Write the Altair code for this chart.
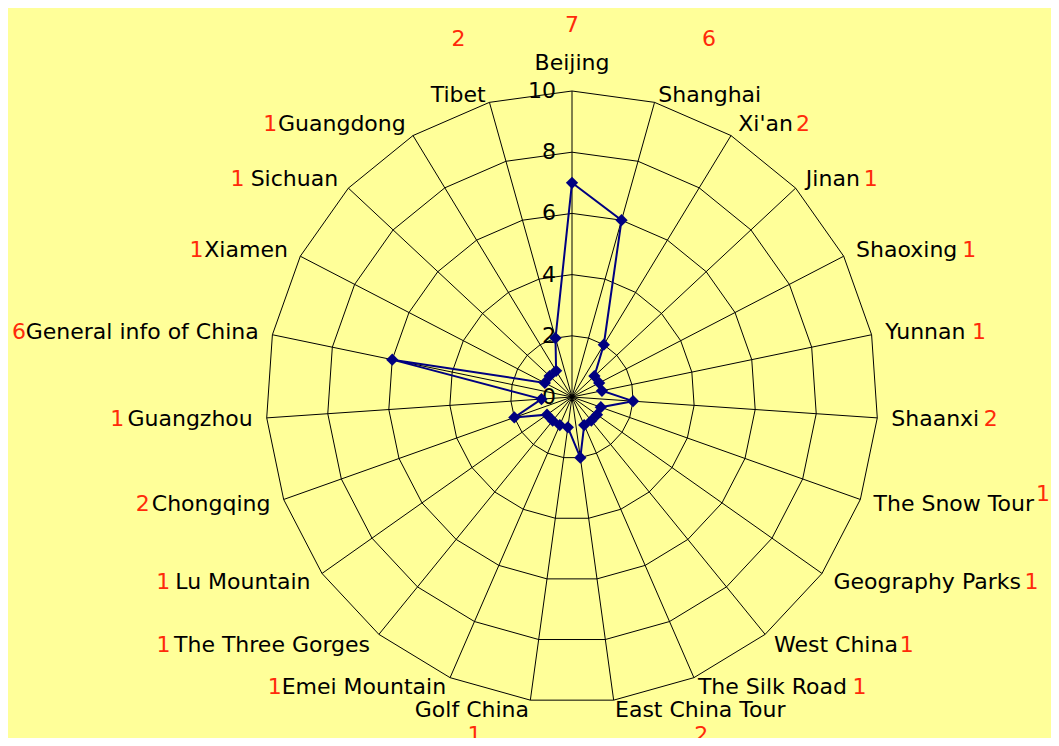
import altair as alt
import pandas as pd

# ---- data ----
categories = ["Beijing", "Shanghai", "Xi'an", "Jinan", "Shaoxing", "Yunnan", "Shaanxi",
              "The Snow Tour", "Geography Parks", "West China", "The Silk Road",
              "East China Tour", "Golf China", "Emei Mountain", "The Three Gorges",
              "Lu Mountain", "Chongqing", "Guangzhou", "General info of China",
              "Xiamen", "Sichuan", "Guangdong", "Tibet"]
values = [7, 6, 2, 1, 1, 1, 2, 1, 1, 1, 1, 2, 1, 1, 1, 1, 2, 1, 6, 1, 1, 1, 2]
ring_levels = [2, 4, 6, 8, 10]
tick_labels = [0, 2, 4, 6, 8, 10]

N = len(categories)
MAXV = 10
K = 30.6            # pixels per unit
W, H = 1043, 730    # whole canvas
CX, CY = 564, 389   # centre of the radar in canvas pixels
XMAX = W - CX

xs = alt.Scale(domain=[-CX, XMAX], nice=False, zero=False)
ys = alt.Scale(domain=[-(H - CY), CY], nice=False, zero=False)

cat_df = pd.DataFrame({"idx": list(range(N)), "category": categories, "value": values})
closed_df = pd.DataFrame({"idx": list(range(N + 1)),
                          "value": values + [values[0]]})
ring_df = pd.DataFrame([{"level": lv, "idx": k} for lv in ring_levels for k in range(N + 1)])
tick_df = pd.DataFrame({"v": tick_labels})

theta = f"datum.idx * 2 * PI / {N}"
FONT = "DejaVu Sans"
FS = 22
BLUE = "#000080"
RED = "#FF2A0A"


def X(f):
    return alt.X(f"{f}:Q", scale=xs, axis=None)


def Y(f):
    return alt.Y(f"{f}:Q", scale=ys, axis=None)


# rings
rings = alt.Chart(ring_df).transform_calculate(
    t=theta,
    x=f"datum.level * {K} * sin(datum.t)",
    y=f"datum.level * {K} * cos(datum.t)",
).mark_line(color="black", strokeWidth=1).encode(
    x=X("x"), y=Y("y"), detail="level:N", order="idx:Q")

# spokes
spokes = alt.Chart(cat_df).transform_calculate(
    t=theta,
    x0="0", y0="0",
    xe=f"{MAXV} * {K} * sin(datum.t)",
    ye=f"{MAXV} * {K} * cos(datum.t)",
).mark_rule(color="black", strokeWidth=1).encode(
    x=X("x0"), y=Y("y0"), x2="xe:Q", y2="ye:Q")

# radial tick labels
ticks = alt.Chart(tick_df).transform_calculate(
    x="-16", y=f"datum.v * {K}", lab="toString(datum.v)"
).mark_text(font=FONT, fontSize=FS, align="right", baseline="middle", color="black").encode(
    x=X("x"), y=Y("y"), text="lab:N")

# data
series_calc = dict(
    t=theta,
    x=f"datum.value * {K} * sin(datum.t)",
    y=f"datum.value * {K} * cos(datum.t)",
)
line = alt.Chart(closed_df).transform_calculate(**series_calc).mark_line(
    color=BLUE, strokeWidth=2).encode(x=X("x"), y=Y("y"), order="idx:Q")
pts = alt.Chart(cat_df).transform_calculate(**series_calc).mark_point(
    shape="diamond", filled=True, color=BLUE, size=150, opacity=1).encode(
    x=X("x"), y=Y("y"))

# label anchors (+ rough text width estimate for placing the value numbers)
lab_base = alt.Chart(cat_df).transform_calculate(
    t=theta,
    s="sin(datum.t)",
    c="cos(datum.t)",
    off="datum.idx == 0 ? 16 : (cos(datum.t) < -0.9 ? 10 : 14)",
    lx=f"({MAXV} * {K} + datum.off) * sin(datum.t)",
    ly0=f"({MAXV} * {K} + datum.off) * cos(datum.t)",
    ly="datum.ly0 + ((datum.c > 0.9 && datum.idx != 0) ? -6 : 0)",
    vtxt="toString(datum.value)",
    nn="length(replace(datum.category, regexp(\"[^ijlIJ']\", \"g\"), ''))",
    nm="length(replace(datum.category, regexp('[^ftr ]', 'g'), ''))",
    nw="length(replace(datum.category, regexp('[^mwMW]', 'g'), ''))",
    tw="6.0 * datum.nn + 7.6 * datum.nm + 18 * datum.nw + 13.6 * (length(datum.category) - datum.nn - datum.nm - datum.nw)",
)

text_kw = dict(font=FONT, fontSize=FS)

lab_right = lab_base.transform_filter("datum.s > 0.1").mark_text(
    align="left", baseline="middle", color="black", **text_kw).encode(
    x=X("lx"), y=Y("ly"), text="category:N")
lab_left = lab_base.transform_filter("datum.s < -0.1").mark_text(
    align="right", baseline="middle", color="black", **text_kw).encode(
    x=X("lx"), y=Y("ly"), text="category:N")
lab_top = lab_base.transform_filter("abs(datum.s) <= 0.1").mark_text(
    align="center", baseline="bottom", color="black", **text_kw).encode(
    x=X("lx"), y=Y("ly"), text="category:N")

# red value numbers beside the label on the sides
# (raised like a superscript when there is no room left at the right edge)
num_right = lab_base.transform_filter("datum.s >= 0.35").transform_calculate(
    nx0="datum.lx + datum.tw + 5",
    nx=f"min(datum.nx0, {XMAX} - 15)",
    ny=f"datum.ly + (datum.nx0 > {XMAX} - 15 ? 10 : 0)",
).mark_text(
    align="left", baseline="middle", color=RED, **text_kw).encode(
    x=X("nx"), y=Y("ny"), text="vtxt:N")
num_left = lab_base.transform_filter("datum.s <= -0.35").transform_calculate(
    nx="datum.lx - datum.tw - 6").mark_text(
    align="right", baseline="middle", color=RED, **text_kw).encode(
    x=X("nx"), y=Y("ly"), text="vtxt:N")
# above / below the label near top and bottom
num_tb = lab_base.transform_filter("abs(datum.s) < 0.35").transform_calculate(
    half="datum.tw / 2",
    nx="datum.s > 0.1 ? datum.lx + datum.half : (datum.s < -0.1 ? datum.lx - datum.half : datum.lx)",
    ny="datum.c > 0 ? datum.ly0 + 50 : datum.ly - 25",
).mark_text(align="center", baseline="middle", color=RED, **text_kw).encode(
    x=X("nx"), y=Y("ny"), text="vtxt:N")

chart = alt.layer(
    rings, spokes, ticks, line, pts, num_right, num_left, num_tb,
    lab_right, lab_left, lab_top
).properties(
    width=W, height=H, padding=0, autosize=alt.AutoSizeParams(type="none"),
    background="#FFFF99"
).configure_view(stroke=None)

chart.save("out.html", embed_options={"renderer": "svg", "actions": False})
